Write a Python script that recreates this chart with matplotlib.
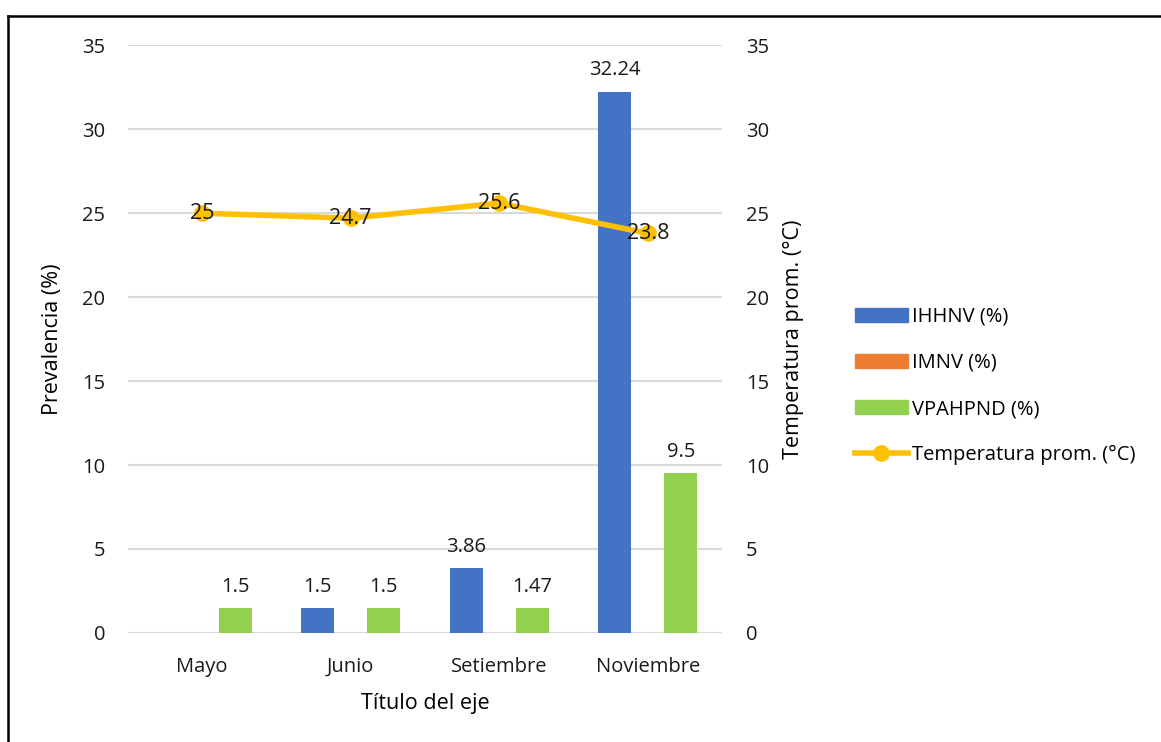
import matplotlib.pyplot as plt
import numpy as np
from matplotlib.lines import Line2D
from matplotlib.patches import Patch

months = ['Mayo', 'Junio', 'Setiembre', 'Noviembre']
ihhnv = [0, 1.5, 3.86, 32.24]
imnv = [0, 0, 0, 0]
vpahpnd = [1.5, 1.5, 1.47, 9.5]
temperatura = [25, 24.7, 25.6, 23.8]

series = [('IHHNV (%)', ihhnv, '#4472C4'),
          ('IMNV (%)', imnv, '#ED7D31'),
          ('VPAHPND (%)', vpahpnd, '#92D050')]
line_color = '#FFC000'
fs = 14.5

plt.rcParams['font.family'] = ['Open Sans', 'DejaVu Sans']
plt.rcParams['font.size'] = fs

fig = plt.figure(figsize=(11.61, 7.42), dpi=100)
ax = fig.add_axes([0.110, 0.147, 0.512, 0.792])
ax2 = ax.twinx()

x = np.arange(len(months))
width = 0.222
for i, (name, vals, color) in enumerate(series):
    bars = ax.bar(x + (i - 1) * width, vals, width, color=color, zorder=2)
    for bar, v in zip(bars, vals):
        if v:
            ax.annotate(f'{v:g}', (bar.get_x() + bar.get_width() / 2, v),
                        xytext=(0, 8), textcoords='offset points',
                        ha='center', va='bottom', color='#1a1a1a')

ax2.plot(x, temperatura, color=line_color, linewidth=4, marker='o',
         markersize=11, zorder=3)
for xi, t in zip(x, temperatura):
    ax2.text(xi, t, f'{t:g}', ha='center', va='center', color='#1a1a1a',
             fontsize=fs + 1, zorder=4)

for a in (ax, ax2):
    a.set_ylim(0, 35)
    a.set_yticks(range(0, 36, 5))
    a.set_xlim(-0.5, len(months) - 0.5)
    a.tick_params(length=0, colors='#1a1a1a', labelsize=fs)
    for s in a.spines.values():
        s.set_visible(False)
ax.tick_params(axis='y', pad=16)
ax2.tick_params(axis='y', pad=17)
ax.tick_params(axis='x', pad=17)
ax.yaxis.grid(True, color='#D9D9D9', linewidth=1.5, zorder=0)
ax.set_axisbelow(True)
ax.set_xticks(x)
ax.set_xticklabels(months)
ax.set_ylabel('Prevalencia (%)', fontsize=fs + 1, labelpad=14)
ax2.set_ylabel('Temperatura prom. (°C)', fontsize=fs + 1, labelpad=10)
ax.set_xlabel('Título del eje', fontsize=fs + 1, labelpad=12)
ax2.set_zorder(ax.get_zorder() + 1)
ax2.patch.set_visible(False)

handles = [Patch(color=c) for _, _, c in series]
handles.append(Line2D([], [], color=line_color, linewidth=4, marker='o', markersize=11))
labels = [n for n, _, _ in series] + ['Temperatura prom. (°C)']
fig.legend(handles, labels, loc='upper left', bbox_to_anchor=(0.721, 0.611),
           frameon=False, handlelength=2.6, handleheight=0.7, handletextpad=0.2,
           labelspacing=1.3, fontsize=fs)

# outer frame
fig.add_artist(Line2D([0.007, 0.007], [0, 0.979], color='black', linewidth=1.8))
fig.add_artist(Line2D([0.007, 1.0], [0.979, 0.979], color='black', linewidth=1.8))

fig.savefig('out.png', dpi=100)
